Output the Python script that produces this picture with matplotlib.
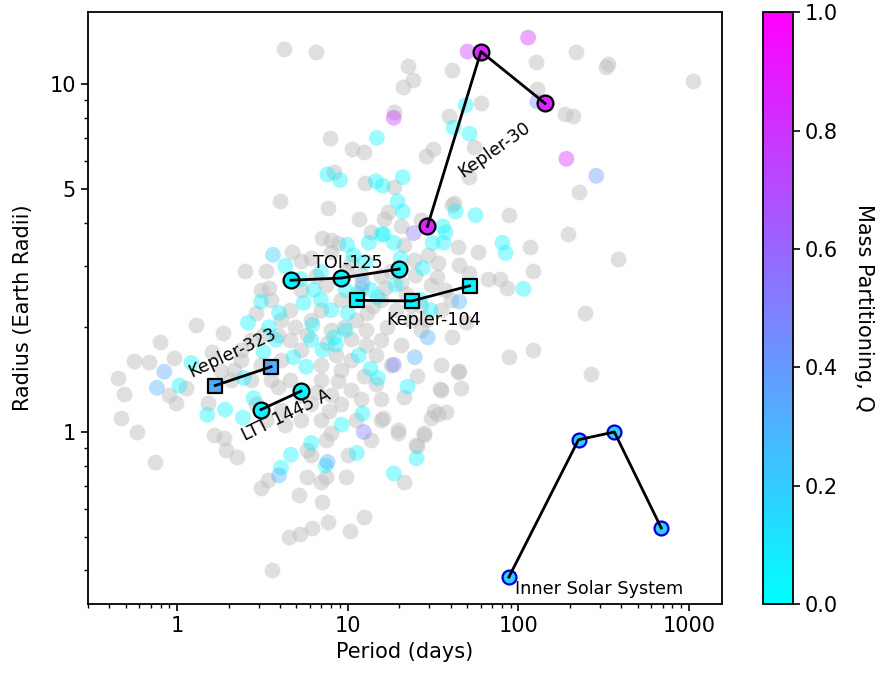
import numpy as np
import matplotlib
matplotlib.use('Agg')
import matplotlib.pyplot as plt
from matplotlib.ticker import FixedLocator, NullFormatter, FixedFormatter
from matplotlib.cm import ScalarMappable
from matplotlib.colors import Normalize

# background planets without a Q value (period days, radius earth)
gray_period = [4.2, 6.5, 22.4, 21.0, 18.6, 7.9, 10.6, 12.4, 8.3, 12.6, 18.6, 4.0, 7.7, 11.7,
               16.2, 17.1, 20.4, 13.6, 7.1, 8.0, 8.7, 4.7, 5.3, 6.1, 2.5, 3.3, 3.45, 15.6,
               31.4, 28.6, 54.6, 51, 218, 126, 325, 335, 1050, 40.6, 24, 129, 188, 210, 60,
               39, 227, 41.7, 87.5, 117, 196, 385, 44, 58, 122, 66, 78.5, 86, 246, 41, 49,
               87.5, 122, 267, 44, 46, 35, 37.4, 35, 45, 25.3, 34.5, 33.6, 32, 30.6, 27.8,
               25, 21.3, 19.6, 15.6, 15.6, 21.3, 16, 1.29, 1.86, 0.79, 0.56, 0.68, 0.96,
               0.45, 0.49, 0.47, 0.58, 0.74, 0.89, 0.99, 1.13, 1.52, 1.64, 1.88, 1.94, 2.24,
               3.4, 3.1, 5.75, 6.1, 7.4, 8.0, 5.75, 6.95, 7.4, 9.7, 10, 19.6, 25.3, 27.8,
               5.2, 7.05, 4.5, 5.24, 6.2, 7.7, 10.3, 12.4, 3.6,
               8.0, 10.4, 9.7, 11.9, 7.4, 9.1, 11.1, 12.7, 15.6, 19.1, 23.4, 26.7, 15.6,
               20.4, 8.0, 6.95, 5.3, 6.1, 4.6, 4.06, 3.55, 3.1, 4.6, 5.3, 4.06, 3.55, 4.6,
               5.3, 6.95, 8.0, 9.1, 10.4, 11.9, 9.1, 10.4, 6.95, 2.7, 2.37, 3.1, 2.07, 2.7,
               24.9, 30.6, 37.2, 40, 35, 28.6, 23.4, 24.3, 29.4, 34.0, 44.6, 51, 33.5, 20.4,
               21.3, 26.7, 41, 2.15, 2.37, 5.3, 6.95, 4.06, 11.1, 13.6, 8.5, 12.7, 14.6,
               17.8, 14.6, 6.1, 4.3, 3.3,
               12, 14, 17, 13, 9.5, 7.5, 5.8, 4.9, 3.9, 3.2, 2.9, 6.5, 16.5, 18, 22, 27,
               10.5, 8.8, 12.5, 7.8, 6.6, 3.9, 2.9, 1.8, 1.6]
gray_radius = [12.6, 12.4, 11.3, 9.8, 8.3, 7.0, 6.5, 6.4, 5.6, 5.2, 5.06, 4.6, 4.4, 4.1,
               4.1, 4.3, 3.9, 3.75, 3.6, 3.56, 3.5, 3.3, 3.1, 3.16, 2.9, 2.9, 2.6, 2.8,
               6.5, 6.2, 6.6, 5.4, 12.4, 11.6, 11.2, 11.4, 10.2, 11.0, 10.3, 9.7, 8.2, 8.1, 8.8,
               8.1, 4.9, 4.55, 4.2, 3.4, 3.7, 3.15, 3.4, 3.3, 2.9, 2.75, 2.75, 2.6, 2.2, 1.87, 2.07,
               1.64, 1.72, 1.47, 1.49, 1.34, 1.32, 1.14, 1.56, 1.50, 1.45, 1.33, 1.13, 1.15, 1.10, 0.99,
               0.92, 0.72, 1.01, 1.24, 1.08, 1.26, 1.10, 2.03, 1.92, 1.81, 1.60, 1.59, 1.63,
               1.43, 1.29, 1.10, 1.0, 0.82, 1.28, 1.21, 1.34, 1.21, 0.98, 0.96, 0.89, 0.85,
               0.73, 0.69, 0.89, 0.86, 0.95, 0.99, 0.74, 0.72, 0.74, 0.74, 0.86, 0.99, 0.91, 0.98,
               0.66, 0.63, 0.50, 0.51, 0.53, 0.55, 0.52, 0.57, 0.40,
               3.3, 3.08, 2.9, 2.82, 2.65, 2.4, 2.1, 1.96, 2.4, 2.24, 2.10, 1.96, 1.84,
               1.78, 1.96, 2.24, 2.56, 2.10, 2.24, 2.10, 2.40, 2.56, 1.84, 1.72, 1.61, 1.41, 1.41,
               1.28, 1.41, 1.28, 1.20, 1.32, 1.24, 1.51, 1.61, 1.56, 1.84, 1.72, 1.56, 1.41, 1.41,
               2.82, 2.64, 2.56, 2.40, 2.24, 2.10, 2.32, 3.12, 3.22, 3.06, 3.02, 2.86, 2.79, 2.68,
               3.45, 4.07, 4.5, 1.51, 1.61, 1.08, 1.08, 1.16, 1.08, 0.95, 1.66, 1.78, 1.66,
               1.56, 1.37, 1.20, 1.05, 1.08,
               2.6, 2.3, 2.0, 2.2, 2.0, 1.8, 1.9, 2.0, 1.9, 1.9, 2.2, 2.8, 2.6, 2.9, 2.5, 2.3,
               1.85, 1.4, 1.45, 1.15, 1.3, 1.35, 1.2, 1.5, 1.7]

# planets with a mass partitioning value
q_period = [14.8, 7.6, 9.0, 14.6, 16, 21, 19.6, 21, 15.8, 18.6, 9.9, 13.3, 16.2, 4.3, 20.4,
            49, 41.7, 51.7, 42.8, 56, 36, 37.4, 31.4, 36.4, 80.6, 84, 27.5, 107, 22.4, 25.3,
            11.6, 13.6, 15, 12.2, 9.2, 6.1, 7.1, 6.2, 8.3, 4.8, 5.7, 11.4, 15, 6.3, 5.5, 10,
            1.21, 1.03, 1.5, 1.91, 2.6, 3.1, 3.95, 3.45, 3.2, 2.8, 2.43, 2.46, 4.64, 4.06,
            7.4, 11.3, 18.6, 6.95, 8.0, 9.7, 13.6, 19, 26.7, 30.6, 9.7, 8.5, 6.1, 3.8,
            5.3, 6.95, 10.8, 12.7,
            3.64, 12.2, 45, 29.4, 24.7, 0.84, 0.76, 3.95, 7.6, 129, 286,
            18.6, 12.4, 24.3,
            18.6, 114, 50.3, 191]
q_radius = [7.0, 5.5, 5.3, 5.26, 5.1, 5.4, 4.6, 4.3, 3.7, 3.5, 3.45, 3.5, 3.7, 3.0, 3.16,
            8.7, 7.5, 7.2, 4.3, 4.2, 3.9, 3.75, 3.5, 3.5, 3.5, 3.27, 2.96, 2.58, 1.35, 0.84,
            1.66, 1.52, 1.43, 1.13, 1.05, 0.93, 1.72, 2.03, 1.87, 1.64, 1.54, 2.5, 2.44, 2.56, 2.35, 2.2,
            1.58, 1.36, 1.12, 1.16, 2.06, 2.37, 2.2, 2.0, 1.70, 1.25, 1.10, 1.43, 0.86, 0.79,
            0.80, 0.87, 0.76, 2.4, 2.24, 2.56, 2.56, 2.65, 2.4, 2.24, 1.96, 1.78, 1.84, 1.84,
            2.75, 2.88, 3.22, 3.08,
            3.23, 2.68, 2.37, 1.87, 1.64, 1.49, 1.34, 0.75, 0.82, 8.9, 5.45,
            1.56, 1.0, 3.73,
            8.0, 13.6, 12.4, 6.1]
q_value = [0.05] * 78 + [0.2, 0.3, 0.3, 0.3, 0.3, 0.35, 0.3, 0.3, 0.35, 0.45, 0.4] \
          + [0.5, 0.5, 0.55] + [0.8, 0.85, 0.8, 0.85]

# highlighted systems
k30_period = [29.3, 60.3, 143.3]
k30_radius = [3.9, 12.4, 8.8]
k30_q = 0.85
toi125_period = [4.65, 9.15, 19.98]
toi125_radius = [2.73, 2.77, 2.94]
toi125_q = 0.05
k104_period = [11.3, 23.7, 51.7]
k104_radius = [2.39, 2.38, 2.63]
k104_q = 0.05
k323_period = [1.67, 3.55]
k323_radius = [1.36, 1.54]
k323_q = 0.32
ltt_period = [3.1, 5.31]
ltt_radius = [1.16, 1.31]
ltt_q = 0.05
sol_period = [88, 225, 365, 687]
sol_radius = [0.383, 0.95, 1.0, 0.53]
sol_q = 0.2

cmap = plt.get_cmap('cool')
norm = Normalize(vmin=0, vmax=1)

fig = plt.figure(figsize=(8.81, 6.75), dpi=100)
ax = fig.add_axes([0.0999, 0.105, 0.7196, 0.877])
cax = fig.add_axes([0.866, 0.105, 0.034, 0.877])

ax.scatter(gray_period, gray_radius, s=130, color='silver', alpha=0.5, linewidths=0, zorder=1)
ax.scatter(q_period, q_radius, s=130, c=q_value, cmap=cmap, norm=norm, alpha=0.4,
           linewidths=0, zorder=2)


def draw_system(per, rad, q, marker, size, edge='black'):
    ax.scatter(per, rad, s=size, color=cmap(norm(q)), marker=marker,
               edgecolors=edge, linewidths=1.6, zorder=3)
    ax.plot(per, rad, color='black', lw=2, zorder=4)


draw_system(k30_period, k30_radius, k30_q, 'o', 130)
draw_system(toi125_period, toi125_radius, toi125_q, 'o', 130)
draw_system(k104_period, k104_radius, k104_q, 's', 110)
draw_system(k323_period, k323_radius, k323_q, 's', 110)
draw_system(ltt_period, ltt_radius, ltt_q, 'o', 130)
draw_system(sol_period, sol_radius, sol_q, 'o', 100, edge='#0000dd')

fs = 15
fs_txt = 12.7
ax.text(10.0, 3.06, 'TOI-125', fontsize=fs_txt, ha='center', va='center', zorder=5)
ax.text(31.8, 2.10, 'Kepler-104', fontsize=fs_txt, ha='center', va='center', zorder=5)
ax.text(2.1, 1.69, 'Kepler-323', fontsize=fs_txt, ha='center', va='center', rotation=25, zorder=5)
ax.text(4.34, 1.12, 'LTT 1445 A', fontsize=fs_txt, ha='center', va='center', rotation=26, zorder=5)
ax.text(72.4, 6.46, 'Kepler-30', fontsize=fs_txt, ha='center', va='center', rotation=35, zorder=5)
ax.text(96, 0.354, 'Inner Solar System', fontsize=fs_txt, ha='left', va='center', zorder=5)

ax.set_xscale('log')
ax.set_yscale('log')
ax.set_xlim(0.3, 1560)
ax.set_ylim(0.32, 16.1)

ax.xaxis.set_major_locator(FixedLocator([1, 10, 100, 1000]))
ax.xaxis.set_major_formatter(FixedFormatter(['1', '10', '100', '1000']))
ax.xaxis.set_minor_formatter(NullFormatter())
ax.yaxis.set_major_locator(FixedLocator([1, 5, 10]))
ax.yaxis.set_major_formatter(FixedFormatter(['1', '5', '10']))
ax.yaxis.set_minor_locator(FixedLocator([0.4, 0.5, 0.6, 0.7, 0.8, 0.9, 2, 3, 4, 6, 7, 8, 9]))
ax.yaxis.set_minor_formatter(NullFormatter())
ax.tick_params(axis='both', which='major', labelsize=fs, length=5.2, width=1.2)
ax.tick_params(axis='both', which='minor', length=3, width=1)
for sp in ax.spines.values():
    sp.set_linewidth(1.3)

ax.set_xlabel('Period (days)', fontsize=fs)
ax.set_ylabel('Radius (Earth Radii)', fontsize=fs, labelpad=12)

cb = fig.colorbar(ScalarMappable(norm=norm, cmap=cmap), cax=cax)
cb.set_ticks([0.0, 0.2, 0.4, 0.6, 0.8, 1.0])
cb.ax.tick_params(labelsize=fs, length=5.2, width=1.2)
cb.outline.set_linewidth(1.3)
cb.set_label('Mass Partitioning, Q', fontsize=fs, rotation=270, labelpad=26)

fig.savefig('out.png', dpi=100)
